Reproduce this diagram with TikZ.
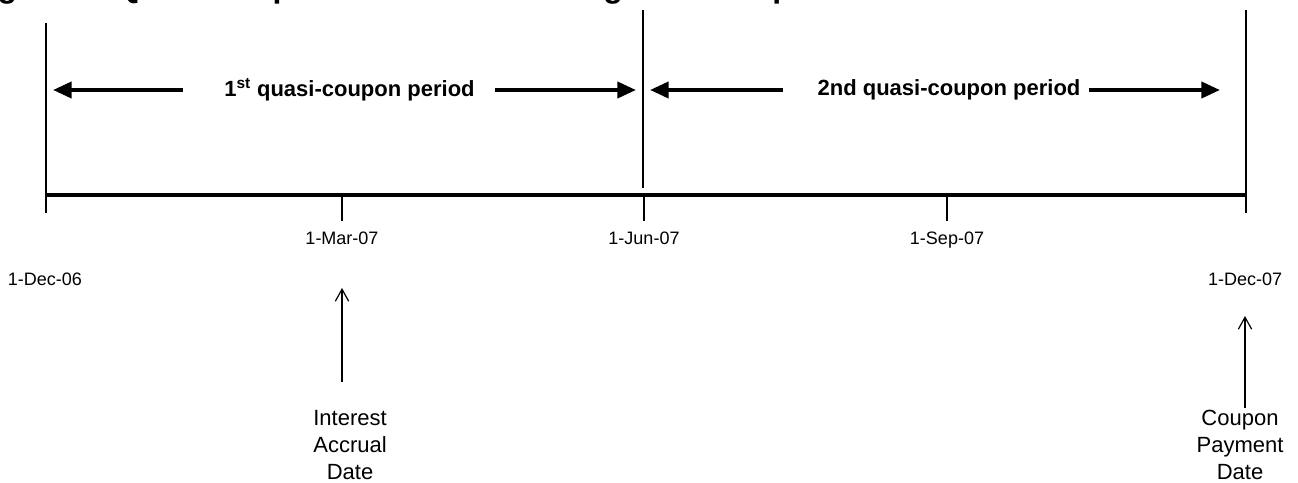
\documentclass[tikz,border=0pt]{standalone}
\usepackage{fontspec}
\setmainfont{Liberation Sans}
\usetikzlibrary{arrows.meta}

\tikzset{
  guide/.style={line width=0.9pt},
  timeline/.style={line width=3.6pt},
  periodhead/.style={line width=3pt,-{Triangle[length=14pt,width=12pt]}},
  periodlbl/.style={font=\fontsize{16.5}{19}\selectfont\bfseries,inner sep=0pt},
  datelbl/.style={font=\fontsize{13.5}{16}\selectfont,inner sep=0pt,anchor=base},
  eventlbl/.style={font=\fontsize{16.5}{20.25}\selectfont,align=center,inner sep=0pt,anchor=north},
  uparrow/.style={line width=0.9pt,-{Straight Barb[length=9pt,width=10pt]}}
}

\begin{document}
\begin{tikzpicture}[x=0.75pt,y=-0.75pt]
        \useasboundingbox (0,0) rectangle (1298,482);
        %% title, cut by the page edge
        \node[anchor=base west,inner sep=0pt,font=\fontsize{24}{28}\selectfont\bfseries] (title) at (-31,-3)
            {Figure 4: Quasi-coupon Periods for a Long First Coupon};
        %% dates on the time line
        \coordinate (dec06) at (46,195);
        \coordinate (mar07) at (342,195);
        \coordinate (jun07) at (644,195);
        \coordinate (sep07) at (947,195);
        \coordinate (dec07) at (1246,195);
        \draw[timeline] (dec06) -- (dec07);
        \draw[guide] (46,23) -- (46,213);
        \draw[guide] (643,10) -- (643,188);
        \draw[guide] (1246,10) -- (1246,213);
        \foreach \d in {mar07,jun07,sep07}
            \draw[guide] (\d) ++(0,2) -- ++(0,24);
        %% quasi-coupon periods
        \node[periodlbl] (first) at (349.5,90) {1\textsuperscript{st} quasi-coupon period};
        \node[periodlbl] (second) at (949,90) {2nd quasi-coupon period};
        \coordinate (firstL) at (53,90);
        \coordinate (firstR) at (636,90);
        \coordinate (secondL) at (650,90);
        \coordinate (secondR) at (1220,90);
        \draw[periodhead] (first.west) ++(-41,0) -- (firstL);
        \draw[periodhead] (first.east) ++(20,0) -- (firstR);
        \draw[periodhead] (second.west) ++(-34,0) -- (secondL);
        \draw[periodhead] (second.east) ++(8,0) -- (secondR);
        %% date labels
        \node[datelbl] (marlbl) at (342,244) {1-Mar-07};
        \node[datelbl] (junlbl) at (644,244) {1-Jun-07};
        \node[datelbl] (seplbl) at (947,244) {1-Sep-07};
        \node[datelbl] (dec06lbl) at (45,285) {1-Dec-06};
        \node[datelbl] (dec07lbl) at (1245,285) {1-Dec-07};
        %% events
        \node[eventlbl] (accrual) at (350,410) {Interest\\Accrual\\Date};
        \node[eventlbl] (payment) at (1240,410) {Coupon\\Payment\\Date};
        \draw[uparrow,shorten <=21pt,shorten >=33pt] (marlbl.base |- accrual.north) -- (marlbl.base);
        \draw[uparrow,shorten <=1.5pt,shorten >=23.25pt] (dec07lbl.base |- payment.north) -- (dec07lbl.base);
    \end{tikzpicture}
\end{document}
